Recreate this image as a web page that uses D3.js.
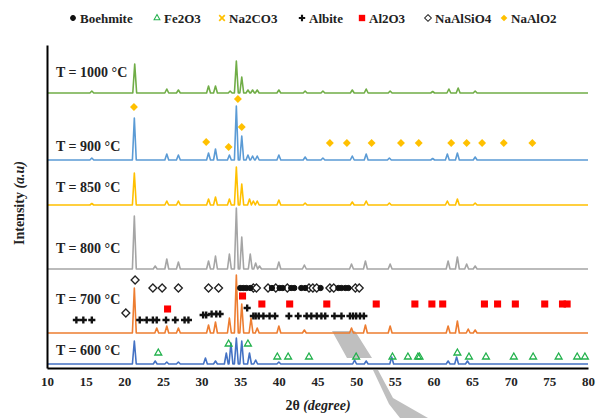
<!DOCTYPE html>
<html>
<head>
<meta charset="utf-8">
<script src="https://cdn.jsdelivr.net/npm/d3@7"></script>
<style>
  body { margin: 0; background: #fff; }
  svg { display: block; font-family: "Liberation Serif", "Times New Roman", serif; font-weight: bold; }
</style>
</head>
<body>
<div class="chart"></div>
<script>
// 2theta range and tick labels
var ticks2theta = [10, 15, 20, 25, 30, 35, 40, 45, 50, 55, 60, 65, 70, 75, 80];

// peak lists per temperature: [2theta, height]
var peaks1000 = [[15.8,2],[21.35,29],[25.5,4],[27.0,3],[30.9,7],[31.8,7],[33.7,2],[34.5,32],[35.2,16],[36.0,3],[36.6,3],[37.2,3],[40.0,3],[43.4,2],[45.7,2],[49.5,3],[51.3,4],[54.4,2],[59.9,1.5],[62.0,4],[63.2,5],[65.4,2]];
var peaks900 = [[15.8,2],[21.3,42],[25.5,6],[27.0,5],[30.9,7],[31.8,11],[33.6,5],[34.5,54],[35.2,24],[36.0,5],[36.6,4],[37.2,4],[40.0,5],[43.4,3],[45.7,2],[49.5,4],[51.3,6],[54.3,2],[59.9,1.5],[61.8,6],[63.1,7],[65.4,3]];
var peaks850 = [[15.8,1.5],[21.3,32],[25.5,4],[27.0,4],[30.9,6],[31.8,8],[33.6,6],[34.5,38],[35.2,21],[36.2,6],[36.7,4],[37.2,4],[40.0,5],[43.4,2],[49.5,3],[51.3,4],[54.3,2],[61.8,4],[63.1,6],[65.4,2]];
var peaks800 = [[21.3,53],[24.0,3],[25.5,10],[27.0,7],[30.9,8],[31.8,13],[33.6,15],[34.5,61],[35.2,32],[36.3,15],[37.0,6],[37.5,3],[40.0,7],[43.3,4],[49.4,5],[51.2,8],[54.4,5],[61.9,8],[63.1,12],[64.3,5],[65.4,3]];
var peaks700 = [[21.3,45],[24.2,5],[25.5,7],[27.0,5],[30.9,8],[31.8,11],[33.6,15],[34.5,58],[35.2,29],[36.4,15],[37.2,5],[40.0,7],[43.3,3],[49.4,5],[51.2,8],[54.4,7],[61.9,7],[63.1,12],[64.5,4],[65.4,3]];
var peaks600 = [[21.3,23],[24.0,3],[25.5,2],[27.0,2],[30.5,6],[31.8,3],[33.2,11],[33.8,21],[34.5,26],[35.2,23],[36.2,11],[37.0,4],[40.0,2],[49.8,4],[51.3,3],[54.6,7],[61.9,3],[63.0,7],[64.4,3]];

var tempLabels = ["T = 1000 °C", "T = 900 °C", "T = 850 °C", "T = 800 °C", "T = 700 °C", "T = 600 °C"];
var offsets = [275, 208, 163, 99, 35, 4];
var labelLevels = [291, 217, 176, 115, 64, 13];
var colors = ["#70AD47", "#5B9BD5", "#FFC000", "#A5A5A5", "#ED7D31", "#4472C4"];

// phase markers: [2theta, level]
var naAlO2 = [[21.25,261],[34.7,269],[35.2,241],[30.6,226],[33.5,221],[46.6,225],[48.8,225],[52.0,225],[55.8,225],[58.1,225],[62.3,225],[64.3,225],[66.3,225],[69.1,225],[72.8,225]];
var al2o3 = [[25.6,59],[35.3,72],[37.8,64],[41.4,64],[46.2,64],[52.6,64],[57.6,64],[59.8,64],[61.2,64],[66.6,64],[68.3,64],[70.6,64],[74.4,64],[76.7,64],[77.3,64]];
var albite = [[13.8,48],[14.7,48],[15.8,48],[22.0,48],[22.9,48],[23.7,48],[24.2,48],[25.4,48],[26.6,48],[27.8,48],[28.3,48],[30.2,53],[30.6,53],[31.3,54],[31.9,54],[32.4,54],[35.9,60],[36.7,52],[37.0,52],[37.4,52],[38.0,52],[38.8,52],[39.5,52],[41.3,52],[42.5,52],[43.6,52],[44.2,52],[44.9,52],[45.5,52],[46.0,52],[47.2,52],[48.1,52],[49.2,52],[49.6,52],[50.0,52],[50.5,52],[51.0,52]];
var naAlSiO4 = [[20.2,55],[21.4,88],[23.7,80],[24.9,80],[27.0,80],[30.9,80],[32.2,80],[36.7,80],[37.1,80],[38.6,80],[39.6,80],[41.1,80],[43.9,80],[44.4,80],[44.9,80],[46.6,80],[47.1,80],[49.9,80],[50.4,80]];
var boehmite = [[35.0,80],[35.4,80],[35.8,80],[36.3,80],[39.1,80],[40.1,80],[40.5,80],[41.6,80],[42.0,80],[42.9,80],[43.4,80],[45.4,80],[47.7,80],[48.1,80],[48.6,80],[49.0,80]];
var fe2o3 = [[24.4,15],[33.5,24],[36.0,24],[39.8,11],[41.2,11],[43.9,11],[50.0,11],[54.7,11],[56.7,11],[58.0,11],[58.2,11],[63.1,15],[64.6,11],[66.8,11],[70.4,11],[72.9,11],[76.2,11],[78.6,11],[79.6,11]];

var legendNames = ["Boehmite", "Fe2O3", "Na2CO3", "Albite", "Al2O3", "NaAlSiO4", "NaAlO2"];
var legendX = [73, 157, 222, 302, 362, 428, 504];

var width = 599, height = 418;
var svg = d3.select(".chart").append("svg").attr("width", width).attr("height", height);

var x = d3.scaleLinear().domain([10, 80]).range([47, 588]);
var y = d3.scaleLinear().domain([0, 323]).range([368, 45]);

// gray arrow shape behind the chart
svg.append("path")
  .attr("d", "M332,331L355,331L372,358L347,358Z M373,370L378,370L393,398L428,418L400,418L389,404Z")
  .attr("fill", "#BFBFBF");

function profile(peaks, offset) {
  var xs = [10, 80];
  peaks.forEach(function(p){
    var w = p[2] || 0.25;
    xs.push(p[0] - w, p[0], p[0] + w);
  });
  xs.sort(function(a, b){ return a - b; });
  return xs.map(function(t){
    var v = 0;
    peaks.forEach(function(p){
      var w = p[2] || 0.25;
      v += Math.max(0, p[1] * (1 - Math.abs(t - p[0]) / w));
    });
    return [t, v + offset];
  });
}

var line = d3.line().x(function(d){ return x(d[0]); }).y(function(d){ return y(d[1]); });
var allPeaks = [peaks1000, peaks900, peaks850, peaks800, peaks700, peaks600];

svg.selectAll(".trace")
  .data(allPeaks)
  .enter().append("path")
  .attr("class", "trace")
  .attr("d", function(d, i){ return line(profile(d, offsets[i])); })
  .attr("fill", "none")
  .attr("stroke", function(d, i){ return colors[i]; })
  .attr("stroke-width", 1.6)
  .attr("stroke-linejoin", "round");

svg.selectAll(".tlabel")
  .data(tempLabels)
  .enter().append("text")
  .attr("class", "tlabel")
  .attr("x", 56)
  .attr("y", function(d, i){ return y(labelLevels[i]); })
  .attr("font-size", 14)
  .attr("fill", "#222")
  .text(function(d){ return d; });

// markers
var sym = {
  circle: d3.symbol().type(d3.symbolCircle).size(22),
  diamond: d3.symbol().type(d3.symbolDiamond2).size(40),
  square: d3.symbol().type(d3.symbolSquare).size(50),
  triangle: d3.symbol().type(d3.symbolTriangle2).size(34),
  plus: d3.symbol().type(d3.symbolCross).size(28),
  bowtie: d3.symbol().type(d3.symbolX).size(30)
};

function drawMarks(data, shape, fill, stroke, sw) {
  svg.append("g").selectAll("path")
    .data(data)
    .enter().append("path")
    .attr("transform", function(d){ return "translate(" + x(d[0]) + "," + y(d[1]) + ")"; })
    .attr("d", sym[shape])
    .attr("fill", fill)
    .attr("stroke", stroke)
    .attr("stroke-width", sw);
}

drawMarks(naAlO2, "diamond", "#FFC000", "none", 0);
drawMarks(al2o3, "square", "#FF0000", "none", 0);
drawMarks(albite, "plus", "#111", "none", 0);
drawMarks(naAlSiO4, "diamond", "#fff", "#222", 1.3);
drawMarks(boehmite, "circle", "#111", "#111", 1);
drawMarks(fe2o3, "triangle", "none", "#22B14C", 1.3);

// axes
var xAxis = d3.axisBottom(x).tickValues(ticks2theta).tickSize(0).tickPadding(9).tickFormat(d3.format("d"));
var gx = svg.append("g").attr("transform", "translate(0," + 368 + ")").call(xAxis)
  .attr("font-family", "Liberation Serif").attr("font-weight", "bold").attr("font-size", 13);
gx.select(".domain").attr("stroke", "#000").attr("stroke-width", 2);
gx.selectAll("text").attr("fill", "#222");

var gy = svg.append("g").attr("transform", "translate(" + 47 + ",0)").call(d3.axisLeft(y).tickValues([]).tickSizeOuter(0));
gy.select(".domain").attr("stroke", "#000").attr("stroke-width", 2);

// axis titles
var xt = svg.append("text").attr("x", 318).attr("y", 410).attr("text-anchor", "middle").attr("font-size", 14).attr("fill", "#222");
xt.append("tspan").text("2θ ");
xt.append("tspan").attr("font-style", "italic").text("(degree)");

var yt = svg.append("text").attr("transform", "translate(24,203) rotate(-90)").attr("text-anchor", "middle").attr("font-size", 14).attr("fill", "#222");
yt.append("tspan").text("Intensity ");
yt.append("tspan").attr("font-style", "italic").text("(a.u)");

// legend
var legendShapes = ["circle", "triangle", "bowtie", "plus", "square", "diamond", "diamond"];
var legendFill = ["#111", "none", "none", "#111", "#FF0000", "#fff", "#FFC000"];
var legendStroke = ["#111", "#22B14C", "#FFC000", "none", "none", "#222", "none"];
var lg = svg.append("g").selectAll("g").data(legendNames).enter().append("g")
  .attr("transform", function(d, i){ return "translate(" + legendX[i] + ",18)"; });
lg.append("path")
  .attr("d", function(d, i){ return sym[legendShapes[i]](); })
  .attr("fill", function(d, i){ return legendFill[i]; })
  .attr("stroke", function(d, i){ return legendStroke[i]; })
  .attr("stroke-width", function(d, i){ return i === 2 ? 2 : 1.2; })
  .attr("transform", function(d, i){ return i === 1 || i === 2 || i === 5 || i === 6 ? "scale(0.85)" : "scale(0.9)"; });
lg.append("text")
  .attr("x", 7)
  .attr("y", 4.5)
  .attr("font-size", 13)
  .attr("fill", "#222")
  .text(function(d){ return d; });
</script>
</body>
</html>
